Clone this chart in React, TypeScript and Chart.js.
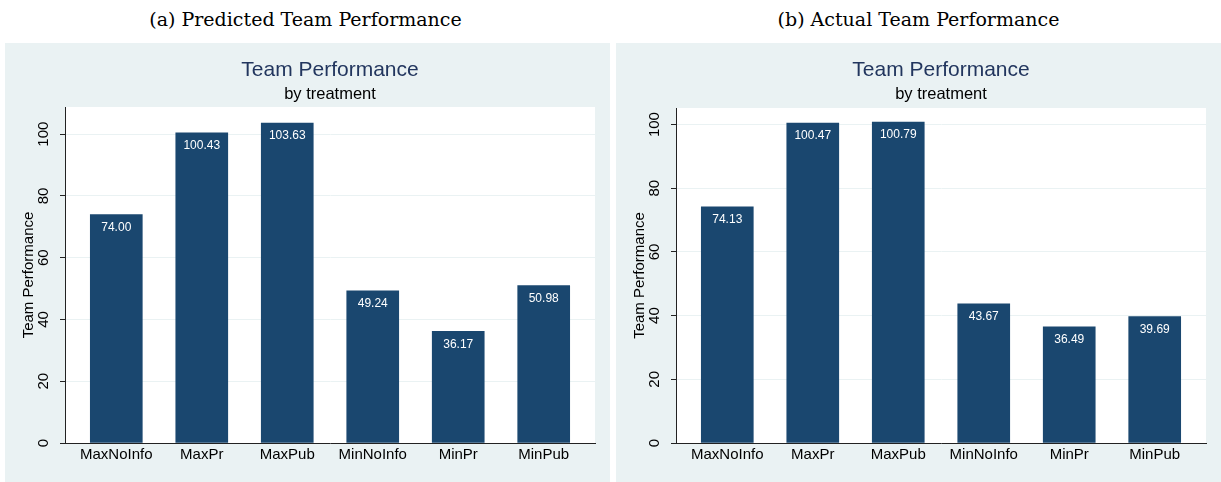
import React, { useEffect, useRef } from "react";
import { Chart, registerables } from "chart.js";

Chart.register(...registerables);

const categories = ["MaxNoInfo", "MaxPr", "MaxPub", "MinNoInfo", "MinPr", "MinPub"];
const predictedValues = [74.0, 100.43, 103.63, 49.24, 36.17, 50.98];
const actualValues = [74.13, 100.47, 100.79, 43.67, 36.49, 39.69];
const yTicks = [0, 20, 40, 60, 80, 100];
const captionA = "(a) Predicted Team Performance";
const captionB = "(b) Actual Team Performance";
const chartTitle = "Team Performance";
const chartSubtitle = "by treatment";
const yAxisTitle = "Team Performance";

const PANEL_BG = "#EAF2F3";
const BAR_COLOR = "#1A476F";
const SANS = "'Liberation Sans', Arial, sans-serif";

function makePlugin() {
  return {
    id: "stataDecor",
    beforeDraw(chart: any) {
      const { ctx, chartArea, width, height } = chart;
      ctx.save();
      ctx.fillStyle = PANEL_BG;
      ctx.fillRect(0, 0, width, height);
      ctx.fillStyle = "#FFFFFF";
      ctx.fillRect(chartArea.left, chartArea.top, chartArea.right - chartArea.left, chartArea.bottom - chartArea.top);
      ctx.restore();
    },
    afterDraw(chart: any) {
      const { ctx, chartArea } = chart;
      const cx = (chartArea.left + chartArea.right) / 2;
      ctx.save();
      // titles
      ctx.textAlign = "center";
      ctx.textBaseline = "alphabetic";
      ctx.fillStyle = "#22365E";
      ctx.font = `21px ${SANS}`;
      ctx.fillText(chartTitle, cx, 33);
      ctx.fillStyle = "#000000";
      ctx.font = `16.5px ${SANS}`;
      ctx.fillText(chartSubtitle, cx, 56);

      // y tick labels (rotated)
      const yScale = chart.scales.y;
      ctx.font = `15px ${SANS}`;
      ctx.fillStyle = "#000000";
      ctx.textBaseline = "middle";
      for (const t of yScale.ticks) {
        const py = yScale.getPixelForValue(t.value);
        ctx.save();
        ctx.translate(chartArea.left - 21, py);
        ctx.rotate(-Math.PI / 2);
        ctx.fillText(String(t.value), 0, 0);
        ctx.restore();
      }
      // y axis title
      ctx.save();
      ctx.translate(chartArea.left - 36, (chartArea.top + chartArea.bottom) / 2);
      ctx.rotate(-Math.PI / 2);
      ctx.fillText(yAxisTitle, 0, 0);
      ctx.restore();

      // value labels inside bars
      const meta = chart.getDatasetMeta(0);
      const data = chart.data.datasets[0].data as any[];
      ctx.font = `12px ${SANS}`;
      ctx.fillStyle = "#FFFFFF";
      meta.data.forEach((bar: any, i: number) => {
        ctx.fillText(data[i].y.toFixed(2), bar.x, bar.y + 13);
      });
      ctx.restore();
    },
  };
}

function Panel({ values, yMax, top }: { values: number[]; yMax: number; top: number }) {
  const ref = useRef<HTMLCanvasElement>(null);
  useEffect(() => {
    if (!ref.current) return;
    const chart = new Chart(ref.current, {
      type: "bar",
      data: {
        datasets: [
          {
            data: categories.map((c, i) => ({ x: i, y: values[i] })),
            backgroundColor: BAR_COLOR,
            borderWidth: 0,
            barThickness: 52,
          },
        ],
      },
      options: {
        animation: false,
        responsive: false,
        devicePixelRatio: 1,
        layout: { padding: { top: top, right: 15, bottom: 0, left: 0 } },
        plugins: { legend: { display: false }, tooltip: { enabled: false }, title: { display: false } },
        scales: {
          x: {
            type: "linear",
            min: -0.6,
            max: 5.6,
            offset: false,
            afterBuildTicks: (scale: any) => {
              scale.ticks = categories.map((_, i) => ({ value: i }));
            },
            afterFit: (scale: any) => {
              scale.height = 39;
            },
            grid: { display: false, drawTicks: false, offset: false },
            border: { display: true, color: "#222222", width: 1 },
            ticks: {
              autoSkip: false,
              maxRotation: 0,
              minRotation: 0,
              padding: 3,
              color: "#000000",
              font: { family: SANS, size: 15 },
              callback: (v: any) => categories[v as number] ?? "",
            },
          },
          y: {
            type: "linear",
            min: 0,
            max: yMax,
            afterBuildTicks: (scale: any) => {
              scale.ticks = yTicks.map((v) => ({ value: v }));
            },
            afterFit: (scale: any) => {
              scale.width = 60;
            },
            grid: { display: true, color: PANEL_BG, lineWidth: 1, drawTicks: true, tickLength: 5, tickColor: "#222222" },
            border: { display: true, color: "#222222", width: 1 },
            ticks: { display: false },
          },
        },
      },
      plugins: [makePlugin()],
    });
    return () => chart.destroy();
  }, [values, yMax, top]);
  return <canvas ref={ref} width={605} height={439} style={{ display: "block", width: 605, height: 439 }} />;
}

export default function App() {
  const captionStyle: React.CSSProperties = {
    position: "absolute",
    top: 8,
    width: 605,
    textAlign: "center",
    fontFamily: "'DejaVu Serif', serif",
    fontSize: 19,
    lineHeight: "22px",
    color: "#000",
    whiteSpace: "nowrap",
  };
  return (
    <div style={{ position: "absolute", left: 0, top: 0, width: 1221, height: 482, background: "#fff", overflow: "hidden" }}>
      <div style={{ ...captionStyle, left: 3 }}>{captionA}</div>
      <div style={{ ...captionStyle, left: 616 }}>{captionB}</div>
      <div style={{ position: "absolute", left: 5, top: 43 }}>
        <Panel values={predictedValues} yMax={108.8} top={64} />
      </div>
      <div style={{ position: "absolute", left: 616, top: 43 }}>
        <Panel values={actualValues} yMax={105.2} top={65} />
      </div>
    </div>
  );
}
